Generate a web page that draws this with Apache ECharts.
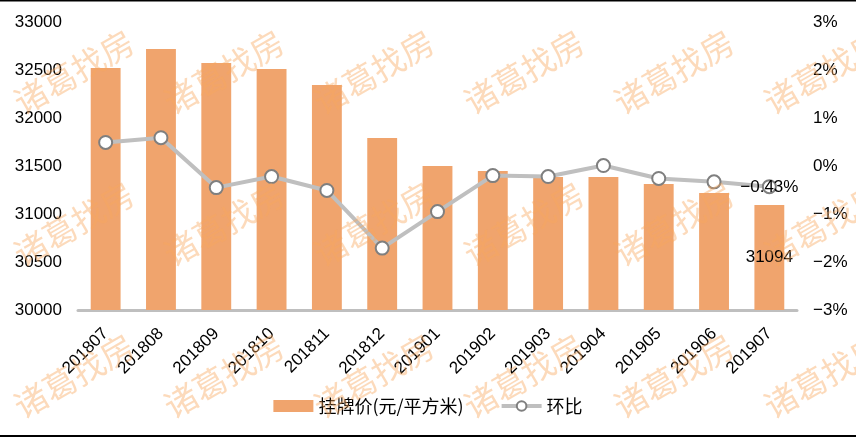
<!DOCTYPE html>
<html>
<head>
<meta charset="utf-8">
<script src="https://cdn.jsdelivr.net/npm/echarts@6/dist/echarts.min.js"></script>
<style>
html,body{margin:0;padding:0;background:#fff;}
#main{width:856px;height:437px;}
</style>
</head>
<body>
<div id="main"></div>
<script>
var categories = ['201807','201808','201809','201810','201811','201812','201901','201902','201903','201904','201905','201906','201907'];
var priceValues = [32521, 32719, 32573, 32510, 32344, 31792, 31500, 31448, 31385, 31385, 31312, 31219, 31094];
var momValues = [0.49, 0.59, -0.45, -0.22, -0.51, -1.71, -0.95, -0.20, -0.22, 0.01, -0.26, -0.33, -0.43];
var leftTicks = [30000, 30500, 31000, 31500, 32000, 32500, 33000];
var rightTicks = [-3, -2, -1, 0, 1, 2, 3];
var seriesNames = ['挂牌价(元/平方米)', '环比'];
var watermarkText = '诸葛找房';

var chart = echarts.init(document.getElementById('main'), null, {renderer: 'canvas'});

var fontNum = '"Liberation Sans", Arial, sans-serif';
var fontCjk = '"Noto Sans CJK SC", sans-serif';
function pct(v) {
  var s = Math.abs(v) + '%';
  return v < 0 ? '\u2212' + s : s;
}

var barData = priceValues.map(function (v, i) {
  if (i === priceValues.length - 1) {
    return {value: v, label: {show: true, position: 'inside', color: '#000', fontSize: 17, fontFamily: fontNum, formatter: function (p) { return String(p.value); }}};
  }
  return v;
});
var lineData = momValues.map(function (v, i) {
  if (i === momValues.length - 1) {
    return {value: v, label: {show: true, position: 'inside', offset: [0, 1], color: '#000', fontSize: 17, fontFamily: fontNum, formatter: function (p) { return pct(p.value); }}};
  }
  return v;
});

var graphics = [
  {type: 'rect', shape: {x: 0, y: 0, width: 856, height: 1.5}, style: {fill: '#000'}, z: 100},
  {type: 'rect', shape: {x: 0, y: 435, width: 856, height: 2}, style: {fill: '#000'}, z: 100}
];
for (var r = 0; r < 3; r++) {
  for (var c = 0; c < 6; c++) {
    graphics.push({
      type: 'text',
      x: 74 + c * 150,
      y: 72 + r * 152,
      rotation: Math.PI / 180 * 30,
      silent: true,
      z: 90,
      style: {
        text: watermarkText,
        fill: 'rgba(248,166,92,0.42)',
        font: '33px "Noto Sans CJK SC", sans-serif',
        align: 'center',
        verticalAlign: 'middle'
      }
    });
  }
}

var option = {
  backgroundColor: '#fff',
  animation: false,
  grid: {left: 78, right: 59, top: 22, bottom: 127, containLabel: false},
  legend: {
    bottom: 17,
    left: 'center',
    itemGap: 36,
    textStyle: {fontSize: 18, fontFamily: fontCjk, color: '#000'},
    data: [
      {name: seriesNames[0], icon: 'rect', itemStyle: {color: '#F0A46D'}},
      {name: seriesNames[1], lineStyle: {width: 4, color: '#BFBFBF'}}
    ],
    itemWidth: 40,
    itemHeight: 12
  },
  xAxis: {
    type: 'category',
    data: categories,
    axisLine: {show: true, onZero: false, lineStyle: {color: '#BFBFBF', width: 3}},
    axisTick: {show: false},
    axisLabel: {rotate: 45, fontSize: 17, fontFamily: fontNum, color: '#000', margin: 21, interval: 0}
  },
  yAxis: [
    {
      type: 'value', min: leftTicks[0], max: leftTicks[leftTicks.length - 1], interval: 500,
      splitLine: {show: false}, axisLine: {show: false}, axisTick: {show: false},
      axisLabel: {fontSize: 17, fontFamily: fontNum, color: '#000', margin: 16, formatter: function (v) { return String(v); }}
    },
    {
      type: 'value', min: rightTicks[0], max: rightTicks[rightTicks.length - 1], interval: 1,
      splitLine: {show: false}, axisLine: {show: false}, axisTick: {show: false},
      axisLabel: {fontSize: 17, fontFamily: fontNum, color: '#000', margin: 16, formatter: pct}
    }
  ],
  series: [
    {
      name: seriesNames[0], type: 'bar', yAxisIndex: 0, data: barData,
      barWidth: '54%', itemStyle: {color: '#F0A46D'}, z: 2
    },
    {
      name: seriesNames[1], type: 'line', yAxisIndex: 1, data: lineData,
      symbol: 'circle', symbolSize: 13, showAllSymbol: true,
      lineStyle: {color: '#BFBFBF', width: 4},
      itemStyle: {color: '#fff', borderColor: '#7F7F7F', borderWidth: 2},
      z: 3
    }
  ],
  graphic: graphics
};
chart.setOption(option);
</script>
</body>
</html>
